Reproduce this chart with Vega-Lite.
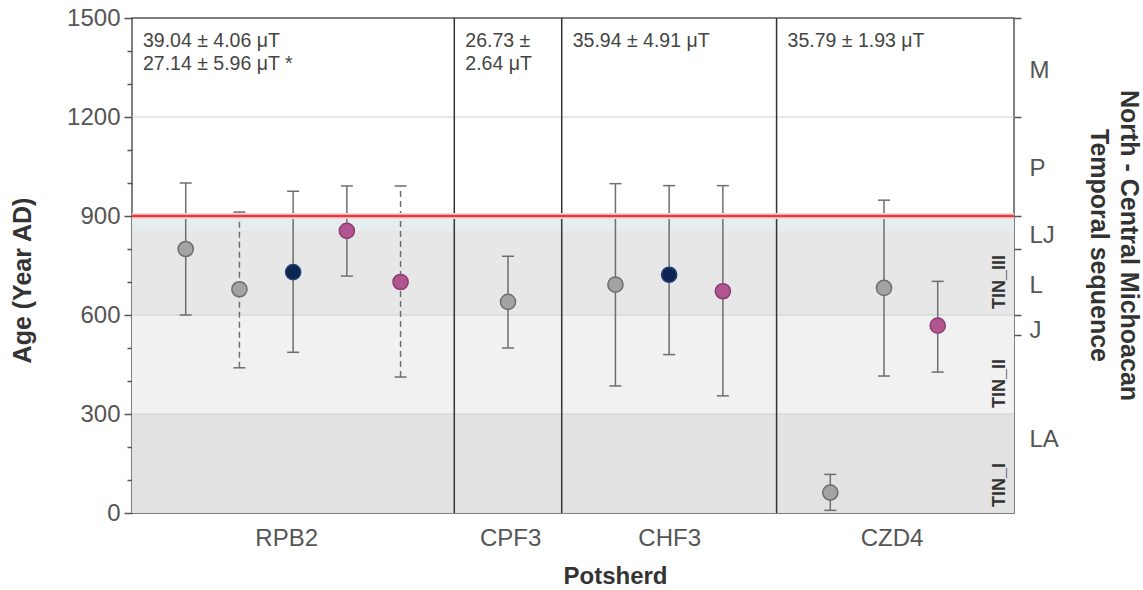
{
  "$schema": "https://vega.github.io/schema/vega-lite/v6.json",
  "width": 882,
  "height": 495,
  "autosize": {"type": "none"},
  "padding": {"left": 132, "top": 18, "right": 129, "bottom": 77},
  "background": "white",
  "config": {
    "view": {"stroke": "#555555", "strokeWidth": 1.5},
    "font": "Liberation Sans"
  },
  "datasets": {
    "samples": [
      {"potsherd": "RPB2", "pos": 1, "age": 800, "lo": 600, "hi": 1000, "series": "grey", "line": "solid"},
      {"potsherd": "RPB2", "pos": 2, "age": 678, "lo": 440, "hi": 912, "series": "grey", "line": "dashed"},
      {"potsherd": "RPB2", "pos": 3, "age": 730, "lo": 487, "hi": 975, "series": "navy", "line": "solid"},
      {"potsherd": "RPB2", "pos": 4, "age": 855, "lo": 718, "hi": 991, "series": "magenta", "line": "solid"},
      {"potsherd": "RPB2", "pos": 5, "age": 700, "lo": 412, "hi": 991, "series": "magenta", "line": "dashed"},
      {"potsherd": "CPF3", "pos": 7, "age": 640, "lo": 500, "hi": 778, "series": "grey", "line": "solid"},
      {"potsherd": "CHF3", "pos": 9, "age": 692, "lo": 385, "hi": 998, "series": "grey", "line": "solid"},
      {"potsherd": "CHF3", "pos": 10, "age": 722, "lo": 480, "hi": 992, "series": "navy", "line": "solid"},
      {"potsherd": "CHF3", "pos": 11, "age": 672, "lo": 355, "hi": 992, "series": "magenta", "line": "solid"},
      {"potsherd": "CZD4", "pos": 13, "age": 62, "lo": 8, "hi": 117, "series": "grey", "line": "solid"},
      {"potsherd": "CZD4", "pos": 14, "age": 682, "lo": 415, "hi": 948, "series": "grey", "line": "solid"},
      {"potsherd": "CZD4", "pos": 15, "age": 568, "lo": 427, "hi": 702, "series": "magenta", "line": "solid"}
    ],
    "panels": [
      {"potsherd": "RPB2", "start": 0, "note": "39.04 ± 4.06 μT\n27.14 ± 5.96 μT *"},
      {"potsherd": "CPF3", "start": 6, "note": "26.73 ±\n2.64 μT"},
      {"potsherd": "CHF3", "start": 8, "note": "35.94 ± 4.91 μT"},
      {"potsherd": "CZD4", "start": 12, "note": "35.79 ± 1.93 μT"}
    ],
    "zones": [
      {"zone": "TIN_I", "from": 0, "to": 300},
      {"zone": "TIN_II", "from": 300, "to": 600},
      {"zone": "TIN_III", "from": 600, "to": 900}
    ],
    "refs": [{"age": 1200}, {"age": 600}, {"age": 300}]
  },
  "layer": [
    {
      "layer": [
        {
          "data": {"name": "zones"},
          "mark": {"type": "rect"},
          "encoding": {
            "y": {"field": "from", "type": "quantitative", "scale": {"domain": [0, 1500], "nice": false, "zero": false}, "axis": null},
            "y2": {"field": "to"},
            "color": {
              "field": "zone", "type": "nominal",
              "scale": {"domain": ["TIN_I", "TIN_II", "TIN_III"], "range": ["#e2e2e2", "#f1f1f1", "#e7e7e7"]},
              "legend": null
            }
          }
        },
        {
          "data": {"values": [{"from": 855, "to": 900}]},
          "mark": {"type": "rect", "color": "#e6edf0"},
          "encoding": {
            "y": {"field": "from", "type": "quantitative", "axis": null},
            "y2": {"field": "to"}
          }
        },
        {
          "data": {"name": "refs"},
          "mark": {"type": "rule", "color": "#cfcfcf", "strokeWidth": 1},
          "encoding": {"y": {"field": "age", "type": "quantitative", "axis": null}}
        },
        {
          "data": {"name": "zones"},
          "mark": {"type": "text", "angle": 270, "align": "left", "baseline": "bottom", "dx": 6, "dy": -5, "fontSize": 18, "fontWeight": "bold", "color": "#333333"},
          "encoding": {
            "x": {"value": "width"},
            "y": {"field": "from", "type": "quantitative", "axis": null},
            "text": {"field": "zone"}
          }
        },
        {
          "data": {"name": "panels"},
          "transform": [{"filter": "datum.start > 0"}],
          "mark": {"type": "rule", "color": "#333333", "strokeWidth": 1.5},
          "encoding": {
            "x": {"field": "start", "type": "quantitative"}
          }
        },
        {
          "data": {"name": "panels"},
          "mark": {"type": "text", "align": "left", "baseline": "alphabetic", "dx": 11, "dy": 29, "lineBreak": "\n", "lineHeight": 23, "fontSize": 19.5, "color": "#444444"},
          "encoding": {
            "x": {"field": "start", "type": "quantitative"},
            "y": {"datum": 1500, "type": "quantitative", "axis": null},
            "text": {"field": "note"}
          }
        },
        {
          "data": {"name": "samples"},
          "mark": {"type": "rule", "color": "#6e6e6e", "strokeWidth": 1.5},
          "encoding": {
            "x": {
              "field": "pos", "type": "quantitative",
              "scale": {"domain": [0, 16.42], "nice": false, "zero": false},
              "axis": {
                "values": [2.87, 7.04, 10, 14.14],
                "labelExpr": "datum.value < 5 ? 'RPB2' : datum.value < 8 ? 'CPF3' : datum.value < 12 ? 'CHF3' : 'CZD4'",
                "ticks": false,
                "domain": false,
                "grid": false,
                "labelFontSize": 24,
                "labelColor": "#555555",
                "labelPadding": 13,
                "labelFlush": false,
                "labelOverlap": false,
                "title": "Potsherd",
                "titleFontSize": 24,
                "titleFontWeight": "bold",
                "titleColor": "#333333",
                "titleAlign": "center",
                "titleBaseline": "top",
                "titleX": 483,
                "titleY": 51
              }
            },
            "y": {"field": "lo", "type": "quantitative", "axis": null},
            "y2": {"field": "hi"},
            "strokeDash": {
              "field": "line", "type": "nominal",
              "scale": {"domain": ["solid", "dashed"], "range": [[1, 0], [6, 4]]},
              "legend": null
            }
          }
        },
        {
          "data": {"name": "samples"},
          "mark": {"type": "tick", "orient": "horizontal", "size": 12, "thickness": 1.5, "color": "#6e6e6e", "opacity": 1},
          "encoding": {
            "x": {"field": "pos", "type": "quantitative"},
            "y": {"field": "lo", "type": "quantitative", "axis": null}
          }
        },
        {
          "data": {"name": "samples"},
          "mark": {"type": "tick", "orient": "horizontal", "size": 12, "thickness": 1.5, "color": "#6e6e6e", "opacity": 1},
          "encoding": {
            "x": {"field": "pos", "type": "quantitative"},
            "y": {"field": "hi", "type": "quantitative", "axis": null}
          }
        },
        {
          "data": {"name": "samples"},
          "mark": {"type": "circle", "size": 230, "strokeWidth": 1.5, "opacity": 1},
          "encoding": {
            "x": {"field": "pos", "type": "quantitative"},
            "y": {"field": "age", "type": "quantitative", "axis": null},
            "fill": {
              "field": "series", "type": "nominal",
              "scale": {"domain": ["grey", "navy", "magenta"], "range": ["#a3a3a3", "#0b2652", "#b05590"]},
              "legend": null
            },
            "stroke": {
              "field": "series", "type": "nominal",
              "scale": {"domain": ["grey", "navy", "magenta"], "range": ["#6d6d6d", "#26406e", "#8c3d70"]},
              "legend": null
            }
          }
        }
      ]
    },
    {
      "data": {"values": [{"age": 900}]},
      "mark": {"type": "rule", "color": "#f7d3d4", "strokeWidth": 6},
      "encoding": {
        "y": {
          "field": "age", "type": "quantitative",
          "scale": {"domain": [0, 1500], "nice": false, "zero": false},
          "axis": {
            "orient": "right",
            "values": [1500, 1340, 1200, 1045, 900, 840, 800, 688, 600, 552, 540, 222],
            "labelExpr": "datum.value == 1340 ? 'M' : datum.value == 1045 ? 'P' : datum.value == 840 ? 'LJ' : datum.value == 688 ? 'L' : datum.value == 552 ? 'J' : datum.value == 222 ? 'LA' : ''",
            "tickOpacity": {"condition": {"test": "indexof([1500, 1200, 900, 800, 600, 540], datum.value) >= 0", "value": 1}, "value": 0},
            "tickSize": 7,
            "tickWidth": 1.5,
            "tickColor": "#555555",
            "domain": false,
            "grid": false,
            "labelFontSize": 24,
            "labelColor": "#555555",
            "labelPadding": 8,
            "labelOverlap": false,
            "labelFlush": false,
            "labelBound": false,
            "title": ["North - Central Michoacan", "Temporal sequence"],
            "titleFontSize": 25,
            "titleFontWeight": "bold",
            "titleColor": "#333333",
            "titleAngle": 90,
            "titleAlign": "center",
            "titleBaseline": "bottom",
            "titleLineHeight": 30,
            "titleX": 101,
            "titleY": 227
          }
        }
      }
    },
    {
      "data": {"values": [{"age": 900}]},
      "mark": {"type": "rule", "color": "#e8383d", "strokeWidth": 2.5},
      "encoding": {
        "y": {
          "field": "age", "type": "quantitative",
          "scale": {"domain": [0, 1500], "nice": false, "zero": false},
          "axis": {
            "orient": "left",
            "values": [0, 100, 200, 300, 400, 500, 600, 700, 800, 900, 1000, 1100, 1200, 1300, 1400, 1500],
            "format": "d",
            "labelExpr": "datum.value % 300 === 0 ? datum.label : ''",
            "tickSize": {"condition": {"test": "datum.value % 300 === 0", "value": 8}, "value": 5},
            "tickWidth": 1.5,
            "tickColor": "#555555",
            "domain": false,
            "grid": false,
            "labelFontSize": 24,
            "labelColor": "#555555",
            "labelPadding": 4,
            "labelOverlap": false,
            "labelFlush": false,
            "labelBound": false,
            "title": "Age (Year AD)",
            "titleFontSize": 25,
            "titleFontWeight": "bold",
            "titleColor": "#333333",
            "titleAngle": 270,
            "titleAlign": "center",
            "titleBaseline": "bottom",
            "titleX": -97,
            "titleY": 262
          }
        }
      }
    }
  ],
  "resolve": {"scale": {"y": "independent"}}
}
